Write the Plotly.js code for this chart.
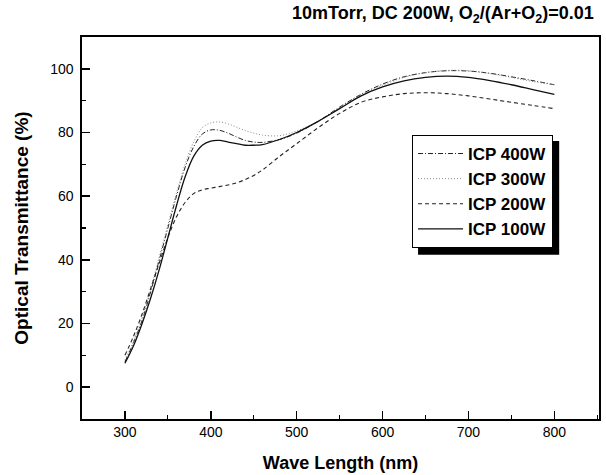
<!DOCTYPE html>
<html>
<head>
<meta charset="utf-8">
<script src="https://cdn.plot.ly/plotly-3.0.1.min.js"></script>
<style>html,body{margin:0;padding:0;background:#fff;}#chart{width:606px;height:475px;}</style>
</head>
<body>
<div id="chart"></div>
<script>
const wavelength = [300,310,320,330,340,350,360,370,380,390,400,410,420,430,440,450,460,480,500,525,550,575,600,625,650,675,700,725,750,775,800];
const icp400 = [8,14,21,30,40,50,60,69,75.5,79.5,80.8,80.7,79.8,78.6,77.5,77,76.9,77.8,79.8,83.5,88,92,95.2,97.5,98.8,99.4,99.3,98.6,97.5,96.3,95];
const icp300 = [8.5,14.5,22,31,41,51,61,70,77,81.5,83,83.3,82.7,81.7,80.6,79.8,79.2,79,80.5,83.5,87.5,91.5,94.8,97.3,98.8,99.5,99.4,98.5,97.3,96,95];
const icp200 = [10,16,23,31,39,47,53.5,58,60.8,62,62.5,63,63.5,64.2,65.2,66.5,68.2,72.5,76.5,81.5,86,89.5,91.2,92.2,92.5,92.2,91.5,90.5,89.5,88.5,87.5];
const icp100 = [7.5,13,20,28,37,47,57,66,72.5,76,77.3,77.5,77,76.5,76,76,76.2,77.8,80,83.5,87.5,91.5,94.3,96.2,97.3,97.7,97.3,96.3,95,93.5,92];
const seriesNames = ["ICP 400W","ICP 300W","ICP 200W","ICP 100W"];
const xTicks = [300,400,500,600,700,800];
const yTicks = [0,20,40,60,80,100];

const FONT = 'Arial, Liberation Sans, sans-serif';
const styles = [
  {dash:'5px,2px,1px,2px', color:'#222', width:1},
  {dash:'1px,2px', color:'#888', width:1},
  {dash:'4px,3px', color:'#222', width:1.1},
  {dash:'solid', color:'#111', width:1.3}
];
const ys = [icp400, icp300, icp200, icp100];
const traces = ys.map((y,i)=>({
  x: wavelength, y: y, name: seriesNames[i], type:'scatter', mode:'lines',
  line:{shape:'spline', smoothing:1, dash:styles[i].dash, color:styles[i].color, width:styles[i].width}
}));

const axisCommon = {
  showline:true, linecolor:'#000', linewidth:1.6, mirror:true,
  ticks:'inside', ticklen:8, tickwidth:1.5, tickcolor:'#000',
  showgrid:false, zeroline:false,
  tickfont:{family:FONT, size:14, color:'#000'}
};

const layout = {
  width:606, height:475,
  margin:{l:82, r:7, t:37, b:56},
  paper_bgcolor:'#fff', plot_bgcolor:'#fff',
  showlegend:true,
  legend:{x:0.638, y:0.744, xanchor:'left', yanchor:'top', bgcolor:'#fff', bordercolor:'#000', borderwidth:1.2,
    itemwidth:45,
    font:{family:FONT, size:17, color:'#000', weight:'bold'}, tracegroupgap:0},
  xaxis: Object.assign({}, axisCommon, {
    range:[250,852], tickvals:xTicks,
    minor:{dtick:50, tick0:0, ticks:'inside', ticklen:4, tickwidth:1.2, tickcolor:'#000'},
    title:{text:'Wave Length (nm)', standoff:17, font:{family:FONT, size:18, color:'#000', weight:'bold'}}
  }),
  yaxis: Object.assign({}, axisCommon, {
    range:[-10,110], tickvals:yTicks, ticklabelstandoff:4,
    minor:{dtick:10, tick0:0, ticks:'inside', ticklen:4, tickwidth:1.2, tickcolor:'#000'},
    title:{text:'Optical Transmittance (%)', standoff:16, font:{family:FONT, size:19, color:'#000', weight:'bold'}}
  }),
  shapes:[{type:'rect', xref:'paper', yref:'paper', x0:0.650, x1:0.923, y0:0.43, y1:0.728, fillcolor:'#000', line:{width:0}, layer:'above'}],
  annotations:[{text:'10mTorr, DC 200W, O<sub>2</sub>/(Ar+O<sub>2</sub>)=0.01', xref:'paper', yref:'paper', x:0.995, y:1.058, xanchor:'right', yanchor:'middle', showarrow:false,
    font:{family:FONT, size:18, color:'#000', weight:'bold'}}]
};
Plotly.newPlot('chart', traces, layout, {displayModeBar:false, staticPlot:true});
</script>
</body>
</html>
